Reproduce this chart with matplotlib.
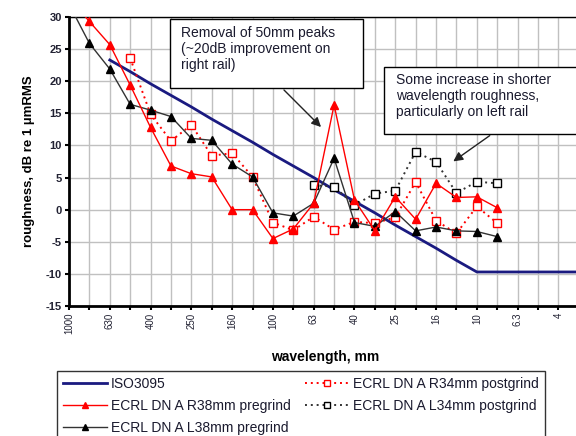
import numpy as np
import matplotlib
matplotlib.use("Agg")
import matplotlib.pyplot as plt
from matplotlib.patches import Rectangle, FancyArrowPatch

plt.rcParams['font.family'] = ['Liberation Sans', 'DejaVu Sans']
plt.rcParams['axes.unicode_minus'] = False

nan = np.nan
wavelengths = ['1000', '800', '630', '500', '400', '315', '250', '200', '160', '125',
               '100', '80', '63', '50', '40', '31.5', '25', '20', '16', '12.5',
               '10', '8', '6.3', '5', '4', '3.15']

iso3095 = [nan, nan, 23.3, 21.5, 19.6, 17.8, 16.0, 14.1, 12.3, 10.5, 8.6, 6.8, 5.0,
           3.1, 1.3, -0.5, -2.4, -4.2, -6.0, -7.9, -9.7, -9.7, -9.7, -9.7, -9.7, -9.7]
ar38_pre = [33.0, 29.3, 25.7, 19.4, 12.8, 6.8, 5.6, 5.1, 0.0, 0.0, -4.5, -3.0, 1.0,
            16.3, 1.5, -3.3, 2.0, -1.5, 4.1, 1.9, 2.0, 0.3, nan, nan, nan, nan]
al38_pre = [32.0, 25.9, 21.9, 16.4, 15.5, 14.5, 11.1, 10.8, 7.1, 5.1, -0.5, -1.0, 1.0,
            8.0, -2.0, -2.6, -0.3, -3.3, -2.7, -3.3, -3.4, -4.2, nan, nan, nan, nan]
ar34_post = [nan, nan, nan, 23.6, 14.85, 10.7, 13.2, 8.4, 8.8, 5.1, -2.0, -3.2, -1.1,
             -3.1, -1.9, -2.1, -1.2, 4.3, -1.7, -3.7, 0.5, -2.1, nan, nan, nan, nan]
al34_post = [nan, nan, nan, nan, nan, nan, nan, nan, nan, nan, nan, nan, 3.8,
             3.6, 0.7, 2.5, 2.95, 9.0, 7.45, 2.6, 4.35, 4.1, nan, nan, nan, nan]

W, H = 576, 436
fig = plt.figure(figsize=(W / 100, H / 100), dpi=100)

def fx(x):
    return x / W

def fy(y):
    return 1 - y / H

ax = fig.add_axes([fx(69), fy(306), 520 / W, 289 / H])
x = np.arange(len(wavelengths))

ax.plot(x, iso3095, color='#1a1a80', lw=2.0, label='ISO3095', zorder=3)
ax.plot(x, ar34_post, color='red', lw=1.4, ls=(0, (1, 2)), marker='s', ms=5.5,
        mfc='white', mec='red', mew=1.0, label='ECRL DN A R34mm postgrind', zorder=4)
ax.plot(x, al34_post, color='#333333', lw=1.4, ls=(0, (1, 2)), marker='s', ms=5.5,
        mfc='white', mec='black', mew=1.0, label='ECRL DN A L34mm postgrind', zorder=4)
ax.plot(x, al38_pre, color='#333333', lw=1.0, marker='^', ms=5.5, mfc='black',
        mec='black', label='ECRL DN A L38mm pregrind', zorder=5)
ax.plot(x, ar38_pre, color='red', lw=1.0, marker='^', ms=5.5, mfc='red',
        mec='red', label='ECRL DN A R38mm pregrind', zorder=5)

ax.set_xlim(0, 25.5)
ax.set_ylim(-15, 30)
ax.set_yticks(np.arange(-15, 31, 5))
ax.set_xticks(x)
ax.set_xticklabels([w if i % 2 == 0 else '' for i, w in enumerate(wavelengths)],
                   rotation=90, fontsize=7, color='#222233', va='top')
for t in ax.get_yticklabels():
    t.set_fontsize(8)
    t.set_fontweight('bold')
    t.set_color('#222233')
ax.grid(True, color='#c0c0c0', lw=1.0, zorder=0)
ax.set_axisbelow(True)
for s in ['left', 'bottom']:
    ax.spines[s].set_linewidth(2.0)
    ax.spines[s].set_color('black')
ax.spines['top'].set_linewidth(1.0)
ax.spines['right'].set_visible(False)
ax.tick_params(axis='both', direction='out', length=3, width=1.5, color='black')
ax.tick_params(axis='x', pad=2)
ax.tick_params(axis='y', pad=2)

ax.set_ylabel('roughness, dB re 1 µmRMS', fontsize=9.5, fontweight='bold', labelpad=8)
fig.text(fx(325), fy(357), 'wavelength, mm', fontsize=10, fontweight='bold',
         ha='center', va='center')

# annotation boxes
fig.add_artist(Rectangle((fx(170), fy(88)), (363 - 170) / W, (88 - 19) / H,
                         transform=fig.transFigure, fc='white', ec='black', lw=1.0,
                         zorder=10))
fig.text(fx(181), fy(26), 'Removal of 50mm peaks\n(~20dB improvement on\nright rail)',
         fontsize=10, ha='left', va='top', linespacing=1.2, color='#1a1a2e', zorder=11)
fig.add_artist(Rectangle((fx(384), fy(134)), (600 - 384) / W, (134 - 67) / H,
                         transform=fig.transFigure, fc='white', ec='black', lw=1.0,
                         zorder=10))
fig.text(fx(396), fy(73), 'Some increase in shorter\nwavelength roughness,\nparticularly on left rail',
         fontsize=10, ha='left', va='top', linespacing=1.2, color='#1a1a2e', zorder=11)

for (x0, y0, x1, y1) in [(282, 88, 323, 129), (492, 134, 451, 163)]:
    fig.add_artist(FancyArrowPatch((fx(x0), fy(y0)), (fx(x1), fy(y1)),
                                   transform=fig.transFigure, arrowstyle='-|>',
                                   mutation_scale=14, color='#222222', lw=1.0,
                                   zorder=12))

# legend
handles, labels = ax.get_legend_handles_labels()
order = ['ISO3095', 'ECRL DN A R38mm pregrind', 'ECRL DN A L38mm pregrind',
         'ECRL DN A R34mm postgrind', 'ECRL DN A L34mm postgrind']
hmap = dict(zip(labels, handles))
leg = fig.legend([hmap[o] for o in order], order, ncol=2, loc='upper left',
                 bbox_to_anchor=(fx(57), fy(371)), fontsize=10, frameon=True,
                 fancybox=False, edgecolor='black', handlelength=3.2,
                 handletextpad=0.3, columnspacing=1.0, labelspacing=0.6,
                 borderpad=0.4, borderaxespad=0, markerscale=0.85)
leg.get_frame().set_linewidth(1.0)
for t in leg.get_texts():
    t.set_color('#1a1a2e')

fig.savefig('out.png', dpi=100)
